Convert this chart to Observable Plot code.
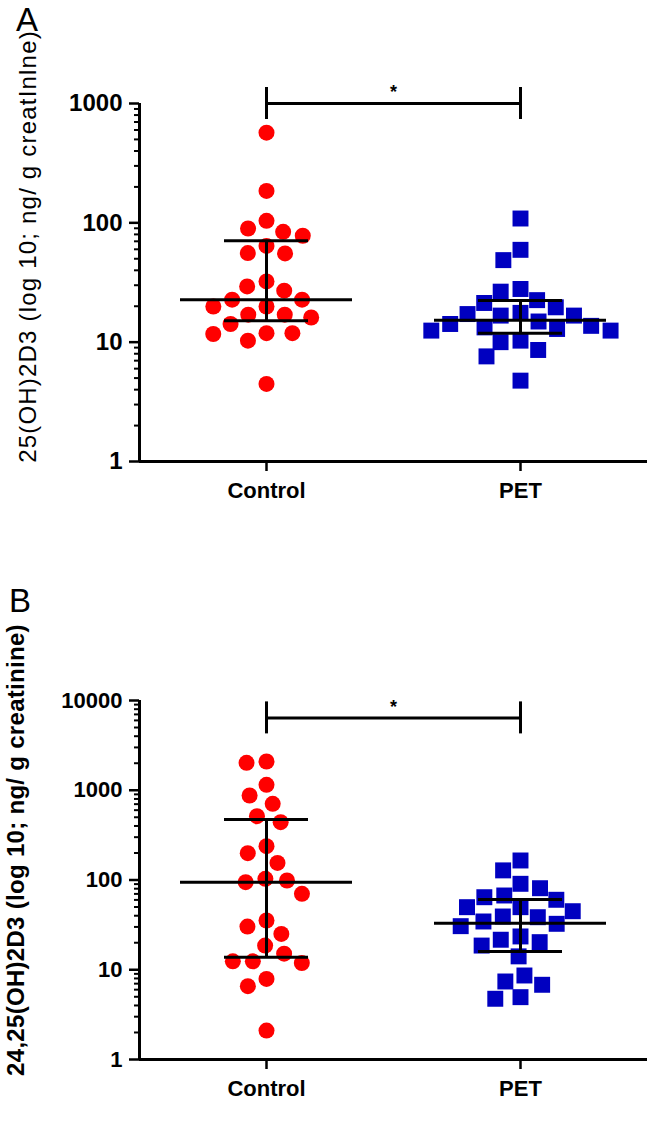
<!DOCTYPE html>
<html><head><meta charset="utf-8">
<script src="https://cdn.jsdelivr.net/npm/d3@7"></script>
<script src="https://cdn.jsdelivr.net/npm/@observablehq/plot@0.6"></script>
<style>
body{margin:0;background:#fff;font-family:"Liberation Sans",Arial,sans-serif;}
.panel{position:relative;width:661px;}
.letter{position:absolute;font-size:33px;line-height:1;color:#000;z-index:2;}
g[aria-label$="tick label"] text{font-weight:bold;}
</style></head><body>
<div id="A" class="panel"><div class="letter" style="left:16px;top:3px">A</div></div>
<div id="B" class="panel"><div class="letter" style="left:9px;top:24px">B</div></div>
<script>
// ---- data ----
const groups = ["Control", "PET"];

const aControl = [570, 185, 104, 89.6, 84, 77.9, 64, 55.8, 55.4, 32.3, 29.3, 27, 22.7, 22.7, 19.9, 19.9, 17, 17, 16.1, 14.2, 11.9, 11.9, 11.7, 10.3, 4.47];
const aPET = [108.7, 59.4, 48.7, 27.9, 26.5, 22.5, 21.3, 19.6, 17.6, 17.2, 16.7, 16.7, 14.9, 14.2, 13.7, 13.3, 12.9, 12.5, 12.5, 10.3, 10.0, 8.6, 7.6, 4.76];
const aMedian = [22.7, 15.3];
const aLower = [15.1, 11.9];
const aUpper = [70.7, 22.3];
const aBracket = 1000;
const aTicks = [1, 10, 100, 1000];
const aLabel = "25(OH)2D3 (log 10; ng/ g creatInlne)";

const bControl = [2090, 2023, 1150, 874, 706, 514, 441, 238, 199, 155, 103, 98.7, 94.6, 70.2, 35.4, 30.3, 25.1, 18.6, 15.1, 12.4, 12.4, 11.9, 7.9, 6.56, 2.10];
const bPET = [165, 128, 90.7, 81, 67.2, 64.3, 60.2, 49.8, 49.8, 44.9, 39.2, 38.5, 34.5, 32.5, 30.6, 23.5, 21.6, 20.3, 18.6, 14.1, 8.63, 7.4, 6.8, 4.95, 4.75];
const bMedian = [94.6, 33];
const bLower = [13.8, 16];
const bUpper = [472, 60.6];
const bBracket = 6400;
const bTicks = [1, 10, 100, 1000, 10000];
const bLabel = "24,25(OH)2D3 (log 10; ng/ g creatinine)";

const FONT = '"Liberation Sans", Arial, sans-serif';

// shift a dodged (frame-centred) column to its category position on the x scale
function toCategory(pos) {
  return (data, facets, channels, scales, dims) => {
    const mid = (dims.marginLeft + dims.width - dims.marginRight) / 2;
    const off = scales.x(pos) - mid;
    const X = channels.x.value;
    return {data, facets, channels: {x: {value: Float64Array.from(X, v => v + off)}}};
  };
}

function panel(cfg) {
  const xDomain = [0.5, 2.5];
  const pos = groups.map((g, i) => i + 1);
  const stats = groups.map((g, i) => ({x: pos[i], med: cfg.median[i], lo: cfg.lower[i], hi: cfg.upper[i]}));
  const minor = cfg.ticks.slice(0, -1).flatMap(m => [2, 3, 4, 5, 6, 7, 8, 9].map(k => k * m));
  const ydomain = [cfg.ticks[0], cfg.ticks[cfg.ticks.length - 1]];
  const mid = (pos[0] + pos[1]) / 2;
  const chart = Plot.plot({
    width: 661, height: cfg.height,
    marginLeft: 139, marginRight: 14, marginTop: cfg.marginTop, marginBottom: cfg.marginBottom,
    style: {fontFamily: FONT, background: "white", overflow: "visible", color: "black"},
    x: {domain: xDomain, axis: null, label: null},
    y: {type: "log", domain: ydomain, axis: null, label: null},
    marks: [
      Plot.axisY(minor, {tickSize: 5, strokeWidth: 2, tickFormat: () => "", label: null}),
      Plot.axisY(cfg.ticks, {tickSize: 10, tickPadding: 7, strokeWidth: 2.5, tickFormat: d => String(d),
        fontSize: cfg.tickFont, fontWeight: "bold", label: null}),
      Plot.axisX(pos, {tickSize: 10, tickPadding: 11, strokeWidth: 2.5, tickFormat: i => groups[i - 1],
        fontSize: 22, fontWeight: "bold", label: null}),
      Plot.ruleX([xDomain[0]], {strokeWidth: 3}),
      Plot.ruleY([ydomain[0]], {strokeWidth: 3}),
      Plot.dot(cfg.control, Plot.initializer(
        Plot.dodgeX({anchor: "middle", padding: 4}, {y: d => d, r: 8, fill: "#ff0000"}), toCategory(pos[0]))),
      Plot.dot(cfg.pet, Plot.initializer(
        Plot.dodgeX({anchor: "middle", padding: 2}, {y: d => d, r: 9, symbol: "square", fill: "#0000c0"}), toCategory(pos[1]))),
      Plot.ruleX(stats, {x: "x", y1: "lo", y2: "hi", strokeWidth: 3}),
      Plot.ruleY(stats, {y: "med", x1: "x", x2: "x", insetLeft: -86, insetRight: -86, strokeWidth: 3}),
      Plot.ruleY(stats, {y: "lo", x1: "x", x2: "x", insetLeft: -42, insetRight: -42, strokeWidth: 3}),
      Plot.ruleY(stats, {y: "hi", x1: "x", x2: "x", insetLeft: -42, insetRight: -42, strokeWidth: 3}),
      Plot.ruleY([{y: cfg.bracket, x1: pos[0], x2: pos[1]}], {y: "y", x1: "x1", x2: "x2", strokeWidth: 3}),
      Plot.ruleX(pos, {x: d => d, y1: cfg.bracket, y2: cfg.bracket, insetTop: -16, insetBottom: -16, strokeWidth: 3}),
      Plot.text([{x: mid, y: cfg.bracket}], {x: "x", y: "y", text: () => "*", dy: -11, fontSize: 18, fontWeight: "bold"}),
      Plot.text([cfg.label], {text: d => d, frameAnchor: "left", textAnchor: "middle", lineAnchor: "middle",
        rotate: -90, dx: cfg.labelDx, dy: cfg.labelDy, fontSize: 24, fontWeight: cfg.labelWeight})
    ]
  });
  chart.querySelectorAll("text").forEach(t => {
    if (t.textContent === cfg.label) t.style.letterSpacing = cfg.spacing + "px";
  });
  document.getElementById(cfg.id).appendChild(chart);
}

panel({id: "A", height: 560, marginTop: 103, marginBottom: 99, control: aControl, pet: aPET,
  median: aMedian, lower: aLower, upper: aUpper, bracket: aBracket, ticks: aTicks, tickFont: 24,
  label: aLabel, labelWeight: "normal", labelDx: -111, labelDy: -36, spacing: 1.2});
panel({id: "B", height: 565, marginTop: 140, marginBottom: 66, control: bControl, pet: bPET,
  median: bMedian, lower: bLower, upper: bUpper, bracket: bBracket, ticks: bTicks, tickFont: 22,
  label: bLabel, labelWeight: "bold", labelDx: -123, labelDy: -30, spacing: 0.3});
</script>
</body></html>
